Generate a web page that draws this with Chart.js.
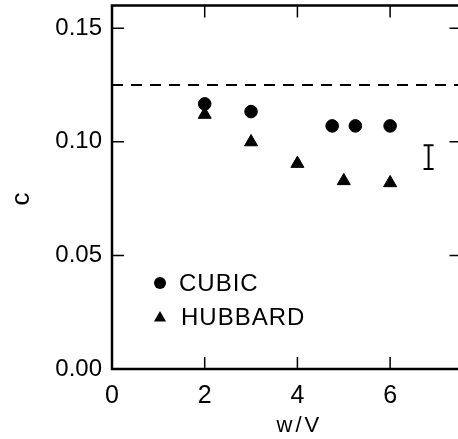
<!DOCTYPE html>
<html>
<head>
<meta charset="utf-8">
<script src="https://cdn.jsdelivr.net/npm/chart.js@4.4.1/dist/chart.umd.min.js"></script>
<style>
  html, body { margin: 0; padding: 0; background: #fff; overflow: hidden; }
  #wrap { width: 470px; height: 442px; margin-top: -3px; }
</style>
</head>
<body>
<div id="wrap"><canvas id="c" width="470" height="442"></canvas></div>
<script>
// ---- data ----
const cubicX = [2, 3, 4.75, 5.25, 6];
const cubicY = [0.1167, 0.1133, 0.107, 0.107, 0.107];
const hubbardX = [2, 3, 4, 5, 6];
const hubbardY = [0.112, 0.0999, 0.0904, 0.0828, 0.0819];
const dashedLevel = 0.125;
const errX = 6.83;
const errLow = 0.088;
const errHigh = 0.0985;
const xTicks = [0, 2, 4, 6];
const yTicks = [0, 0.05, 0.10, 0.15];
const xMin = 0, xMax = 7.54, yMin = 0, yMax = 0.16;
const seriesNames = ['CUBIC', 'HUBBARD'];
const xTitle = 'w/V';
const yTitle = 'c';

const FONT = "'Liberation Sans', Arial, sans-serif";
const SHIFT = 3; // canvas is shifted up by this many px

const decorPlugin = {
  id: 'decor',
  beforeDatasetsDraw(chart) {
    const { ctx, chartArea: a, scales: { x, y } } = chart;
    ctx.save();
    ctx.strokeStyle = '#000';
    ctx.lineWidth = 2.5;
    ctx.beginPath();
    ctx.rect(a.left, a.top, a.right - a.left, a.bottom - a.top);
    ctx.stroke();
    ctx.lineWidth = 1.5;
    const tl = 12;
    ctx.beginPath();
    xTicks.forEach(v => {
      if (v === xMin) return;
      const px = x.getPixelForValue(v);
      ctx.moveTo(px, a.bottom); ctx.lineTo(px, a.bottom - tl);
      ctx.moveTo(px, a.top); ctx.lineTo(px, a.top + tl);
    });
    yTicks.forEach(v => {
      if (v === yMin) return;
      const py = y.getPixelForValue(v);
      ctx.moveTo(a.left, py); ctx.lineTo(a.left + tl, py);
      ctx.moveTo(a.right, py); ctx.lineTo(a.right - tl, py);
    });
    ctx.stroke();
    ctx.restore();
  },
  afterDatasetsDraw(chart) {
    const { ctx, chartArea: a, scales: { x, y } } = chart;
    ctx.save();
    // error bar
    const ex = x.getPixelForValue(errX);
    const y1 = y.getPixelForValue(errLow), y2 = y.getPixelForValue(errHigh);
    ctx.strokeStyle = '#000';
    ctx.lineWidth = 2;
    ctx.beginPath();
    ctx.moveTo(ex, y1); ctx.lineTo(ex, y2);
    ctx.moveTo(ex - 5, y1); ctx.lineTo(ex + 5, y1);
    ctx.moveTo(ex - 5, y2); ctx.lineTo(ex + 5, y2);
    ctx.stroke();
    // legend
    ctx.translate(0, SHIFT);
    ctx.fillStyle = '#000';
    ctx.beginPath();
    ctx.arc(160, 283, 6, 0, Math.PI * 2);
    ctx.fill();
    const tr = 7, tx = 160, ty = 318;
    ctx.beginPath();
    for (let i = 0; i < 3; i++) {
      const r = i * 2 * Math.PI / 3;
      const px = tx + Math.sin(r) * tr, py = ty - Math.cos(r) * tr;
      i ? ctx.lineTo(px, py) : ctx.moveTo(px, py);
    }
    ctx.closePath();
    ctx.fill();
    ctx.font = '24px ' + FONT;
    ctx.textBaseline = 'middle';
    ctx.textAlign = 'left';
    ctx.letterSpacing = '1px';
    ctx.fillText(seriesNames[0], 179, 284);
    ctx.fillText(seriesNames[1], 181, 318);
    // axis titles
    ctx.font = '22px ' + FONT;
    ctx.letterSpacing = '3px';
    ctx.textAlign = 'center';
    ctx.fillText(xTitle, x.getPixelForValue(4) + 2, 426);
    ctx.letterSpacing = '0px';
    ctx.translate(22, 199);
    ctx.rotate(-Math.PI / 2);
    ctx.font = '26px ' + FONT;
    ctx.fillText(yTitle, 0, 0);
    ctx.restore();
  }
};

new Chart(document.getElementById('c'), {
  type: 'scatter',
  data: {
    datasets: [
      {
        label: seriesNames[0],
        data: cubicX.map((v, i) => ({ x: v, y: cubicY[i] })),
        pointStyle: 'circle', pointRadius: 6.3,
        backgroundColor: '#000', borderColor: '#000', borderWidth: 1
      },
      {
        label: seriesNames[1],
        data: hubbardX.map((v, i) => ({ x: v, y: hubbardY[i] })),
        pointStyle: 'triangle', pointRadius: 7.5,
        backgroundColor: '#000', borderColor: '#000', borderWidth: 1
      },
      {
        type: 'line',
        label: 'level',
        data: [{ x: xMin, y: dashedLevel }, { x: xMax, y: dashedLevel }],
        borderColor: '#000', borderWidth: 2, borderDash: [11, 8],
        pointRadius: 0, fill: false
      }
    ]
  },
  options: {
    responsive: false,
    animation: false,
    layout: { padding: { top: 1, right: 6, left: 0, bottom: 0 } },
    plugins: { legend: { display: false }, tooltip: { enabled: false } },
    scales: {
      x: {
        type: 'linear', min: xMin, max: xMax,
        grid: { display: false, drawTicks: false },
        border: { display: false },
        afterBuildTicks: s => { s.ticks = xTicks.map(v => ({ value: v })); },
        afterFit: s => { s.height = 70; s.paddingLeft = 0; s.paddingRight = 0; },
        ticks: {
          padding: 12, color: '#000', maxRotation: 0,
          font: { family: FONT, size: 25 },
          callback: v => String(v)
        }
      },
      y: {
        type: 'linear', min: yMin, max: yMax,
        grid: { display: false, drawTicks: false },
        border: { display: false },
        afterBuildTicks: s => { s.ticks = yTicks.map(v => ({ value: v })); },
        afterFit: s => { s.width = 112; s.paddingTop = 0; s.paddingBottom = 0; },
        ticks: {
          padding: 10, color: '#000',
          font: { family: FONT, size: 24 },
          callback: v => Number(v).toFixed(2)
        }
      }
    }
  },
  plugins: [decorPlugin]
});
</script>
</body>
</html>
